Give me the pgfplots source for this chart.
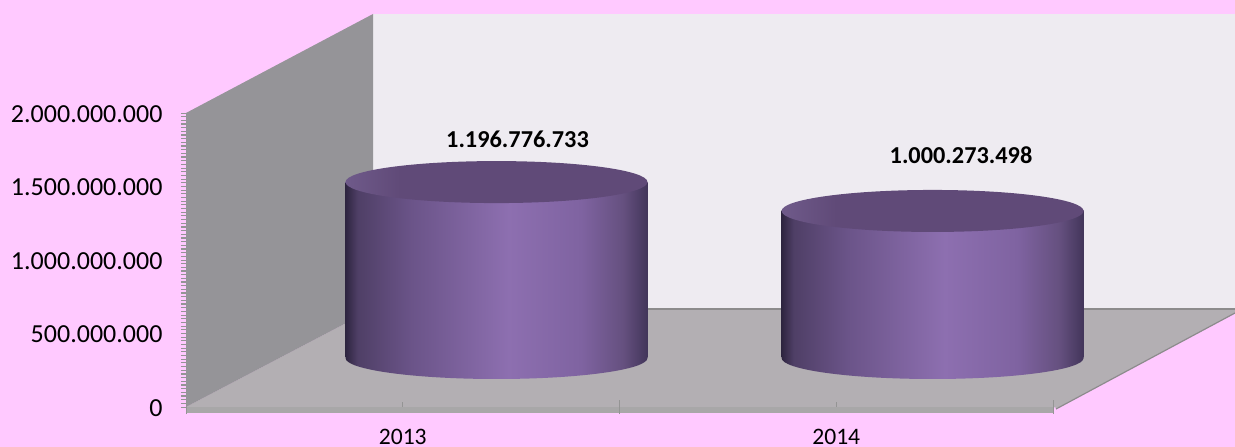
\documentclass[border=0pt]{standalone}
\usepackage{fontspec}
\setmainfont{Carlito}
\usepackage{pgfplots}
\pgfplotsset{compat=1.18}

\definecolor{pagepink}{HTML}{FFC9FF}
\definecolor{backwall}{HTML}{EEEBF1}
\definecolor{sidewall}{HTML}{959498}
\definecolor{floorc}{HTML}{B3AFB3}
\definecolor{floorfront}{HTML}{A8A7A8}
\definecolor{flooredge}{HTML}{8C8B8C}
\definecolor{c0}{HTML}{2E2540}
\definecolor{c1}{HTML}{4F3F66}
\definecolor{c2}{HTML}{6B5489}
\definecolor{c3}{HTML}{8D6FB0}
\definecolor{c4}{HTML}{7F63A1}
\definecolor{c5}{HTML}{65507F}
\definecolor{c6}{HTML}{42355A}
\definecolor{cap0}{HTML}{6F5A8A}
\definecolor{cap1}{HTML}{604A78}

% tikz fits the path into the middle 50bp of the shading
\pgfdeclarehorizontalshading{cyl}{100bp}{color(0bp)=(c0); color(25bp)=(c0); color(27bp)=(c1);
  color(36bp)=(c2); color(52bp)=(c3); color(64bp)=(c4); color(71bp)=(c5); color(75bp)=(c6); color(100bp)=(c6)}
\pgfdeclarehorizontalshading{capshade}{100bp}{color(0bp)=(cap0); color(25bp)=(cap0); color(34bp)=(cap1); color(100bp)=(cap1)}

\pgfdeclareplotmark{cylbase}{\path[draw=none,shading=cyl,rotate=2] (-151pt,0pt) arc[start angle=180,end angle=360,x radius=151pt,y radius=21pt] -- cycle;}
\pgfdeclareplotmark{cylcap}{\path[draw=none,shading=capshade,rotate=2] (0,0) ellipse (151pt and 21pt);}

\begin{document}
\begin{tikzpicture}
\useasboundingbox (0,0) rectangle (1235pt,447pt);
\fill[pagepink] (0,0) rectangle (1235pt,447pt);
% walls and floor, in picture pixels
\begin{scope}[x=1pt,y=-1pt,yshift=447pt]
\fill[backwall] (373,14) -- (1235,14) -- (1235,309) -- (373,309) -- cycle;
\fill[floorc] (186,407) -- (373,309) -- (1235,309) -- (1235,313) -- (1057,408) -- (1053,407) -- cycle;
\fill[floorfront] (186,407) -- (1053,407) -- (1053,413) -- (186,413) -- cycle;
\fill[sidewall] (186,113) -- (373,14) -- (373,309) -- (186,407) -- cycle;
\draw[flooredge,line width=1.5pt] (373,309) -- (1235,309);
\draw[flooredge,line width=1.2pt] (1056,409) -- (1235,313);
\end{scope}
\begin{axis}[
    at={(186pt,40pt)}, anchor=south west,
    scale only axis, width=867pt, height=294pt,
    clip=false,
    xmin=0, xmax=2, ymin=0, ymax=2000000000,
    axis line style={draw=none},
    xtick={0.5,1.5}, xticklabels={2013,2014},
    extra x ticks={0,1,2}, extra x tick labels={},
    extra x tick style={tick align=center, major tick length=14pt},
    xtick align=inside,
    ytick={0,500000000,1000000000,1500000000,2000000000},
    ytick align=outside, xtick pos=bottom, ytick pos=left,
    minor y tick num=19,
    major tick length=5pt, minor tick length=5pt,
    tick style={color=black!42, line width=0.8pt},
    minor tick style={color=black!42, line width=1.2pt},
    scaled y ticks=false,
    yticklabel style={/pgf/number format/assume math mode=true,
        /pgf/number format/fixed, /pgf/number format/precision=0,
        /pgf/number format/1000 sep={.}, font=\fontsize{26}{30}\selectfont,
        anchor=east, xshift=-15pt, yshift=-1pt},
    xticklabel style={font=\fontsize{23.6}{28}\selectfont, inner sep=0pt, yshift=-22pt},
]
% bottom rim, bar body, top face: lifted to the middle of the floor depth
\addplot[only marks, mark=cylbase, xshift=93.75pt, yshift=49pt]
    coordinates {(0.5,0) (1.506,0)};
\addplot[ybar, bar width=302pt, draw=none, shading=cyl, xshift=93.75pt, yshift=49pt]
    coordinates {(0.5,1196776733)};
\addplot[ybar, bar width=302pt, draw=none, shading=cyl, xshift=93.75pt, yshift=49pt]
    coordinates {(1.506,1000273498)};
\addplot[only marks, mark=cylcap, xshift=93.75pt, yshift=49pt]
    coordinates {(0.5,1196776733) (1.506,1000273498)};
% value labels
\pgfplotsset{value label/.style 2 args={draw=none, mark=none,
    nodes near coords={\pgfmathprintnumber[fixed,precision=0,1000 sep={.},assume math mode=true]{\pgfplotspointmeta}},
    every node near coord/.style={anchor=center, xshift=#1, yshift=#2, text=black,
        font=\fontsize{24.3}{29}\selectfont\bfseries}}}
\addplot[value label={114.75pt}{92pt}] coordinates {(0.5,1196776733)};
\addplot[value label={124.75pt}{105pt}] coordinates {(1.5,1000273498)};
\end{axis}
\end{tikzpicture}
\end{document}
